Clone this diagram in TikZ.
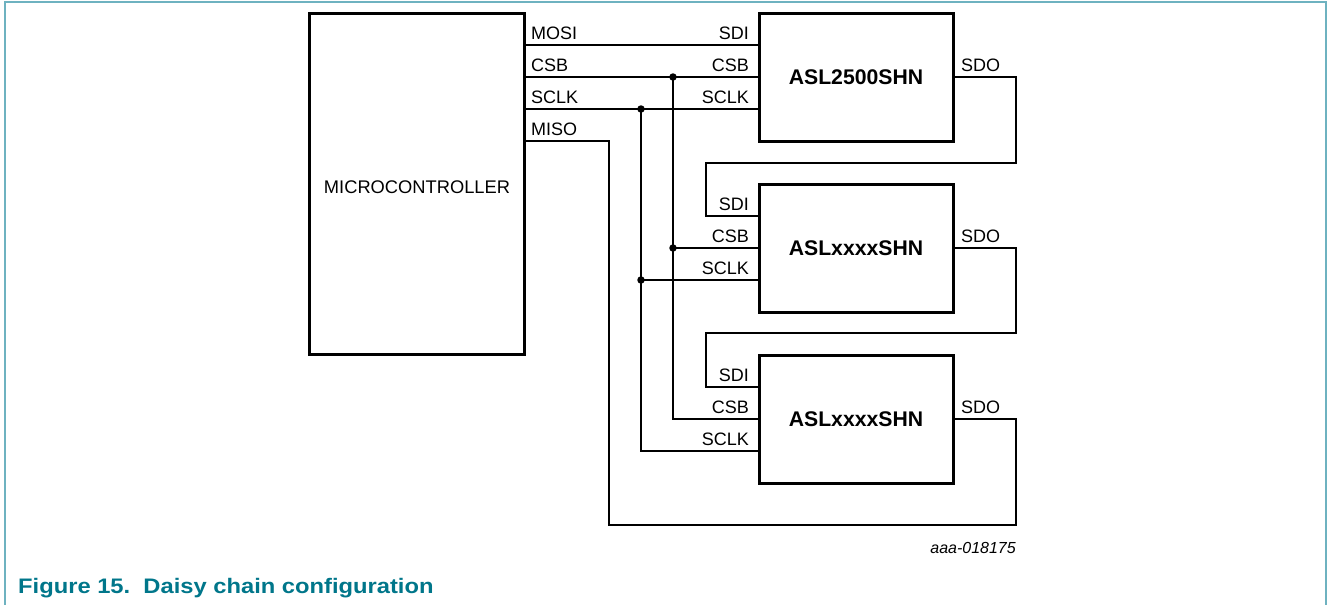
\documentclass[tikz,border=0pt]{standalone}
\usepackage{fontspec}
\setmainfont{Liberation Sans}
\newfontfamily\capfont[FakeStretch=1.13]{Liberation Sans}
\definecolor{framec}{RGB}{110,178,192}
\definecolor{captc}{RGB}{0,118,138}
\begin{document}
\begin{tikzpicture}[x=1pt,y=-1pt,
  chip/.style={draw, line width=3pt, minimum width=194pt, minimum height=128pt, inner sep=0pt, font=\fontsize{21.2}{24}\selectfont\bfseries},
  mcubox/.style={draw, line width=3pt, minimum width=215pt, minimum height=341pt, inner sep=0pt, font=\fontsize{18}{20}\selectfont},
  wire/.style={line width=1.4pt},
  pin/.style={font=\fontsize{18}{20}\selectfont, inner sep=0pt},
  jdot/.style={circle, fill, inner sep=0pt, minimum size=7.5pt}]
\useasboundingbox (0,0) rectangle (1328,605);
% frame
\draw[framec, line width=1.3pt] (5,605) -- (5,2) -- (1326,2) -- (1326,605);

% boxes
\node[mcubox] (mcu) at (416.5,183.5) {};
\node[font=\fontsize{18.3}{20}\selectfont] (mcut) at (417,187) {MICROCONTROLLER};
\node[chip] (c1) at (856,77) {ASL2500SHN};
\node[chip] (c2) at (856,248) {ASLxxxxSHN};
\node[chip] (c3) at (856,419) {ASLxxxxSHN};

% pin coordinates
\coordinate (mmosi) at (mcu.east |- 0,45);
\coordinate (mcsb) at (mcu.east |- 0,77);
\coordinate (msclk) at (mcu.east |- 0,109);
\coordinate (mmiso) at (mcu.east |- 0,141);
\foreach \c/\y in {c1/13,c2/184,c3/355}{
  \coordinate (\c sdi) at (\c.west |- 0,\y+32);
  \coordinate (\c csb) at (\c.west |- 0,\y+64);
  \coordinate (\c sclk) at (\c.west |- 0,\y+96);
  \coordinate (\c sdo) at (\c.east |- 0,\y+64);
}

% microcontroller labels
\node[pin, anchor=base west] (lmosi) at (531,39) {MOSI};
\node[pin, anchor=base west] (lcsb) at (531,71) {CSB};
\node[pin, anchor=base west] (lsclk) at (531,103) {SCLK};
\node[pin, anchor=base west] (lmiso) at (531,135) {MISO};

% chip labels
\foreach \c/\y in {c1/13,c2/184,c3/355}{
  \node[pin, anchor=base east] (\c lsdi) at (749,\y+26) {SDI};
  \node[pin, anchor=base east] (\c lcsb) at (749,\y+58) {CSB};
  \node[pin, anchor=base east] (\c lsclk) at (749,\y+90) {SCLK};
  \node[pin, anchor=base west] (\c lsdo) at (961,\y+58) {SDO};
}

% buses
\coordinate (jcsb1) at (673,77);
\coordinate (jsclk1) at (641,109);
\coordinate (jcsb2) at (673,248);
\coordinate (jsclk2) at (641,280);

\draw[wire] (mmosi) -- (c1sdi);
\draw[wire] (mcsb) -- (c1csb);
\draw[wire] (msclk) -- (c1sclk);
\draw[wire] (jcsb1) |- (c3csb);
\draw[wire] (jsclk1) |- (c3sclk);
\draw[wire] (jcsb2) -- (c2csb);
\draw[wire] (jsclk2) -- (c2sclk);
\node[jdot] (d1) at (jcsb1) {};
\node[jdot] (d2) at (jsclk1) {};
\node[jdot] (d3) at (jcsb2) {};
\node[jdot] (d4) at (jsclk2) {};

% daisy chain
\draw[wire] (c1sdo) -- (1016,77) -- (1016,163) -- (706,163) |- (c2sdi);
\draw[wire] (c2sdo) -- (1016,248) -- (1016,333) -- (706,333) |- (c3sdi);
\draw[wire] (mmiso) -- (609,141) -- (609,525) -- (1016,525) |- (c3sdo);

% ids
\node[font=\fontsize{16}{18}\selectfont\itshape, anchor=base east, inner sep=0pt] (fid) at (1016,553) {aaa-018175};
\node[font=\capfont\fontsize{21}{24}\selectfont\bfseries, text=captc, anchor=base west, inner sep=0pt] (cap) at (18,593) {Figure 15.\ \ Daisy chain configuration};
\end{tikzpicture}
\end{document}
